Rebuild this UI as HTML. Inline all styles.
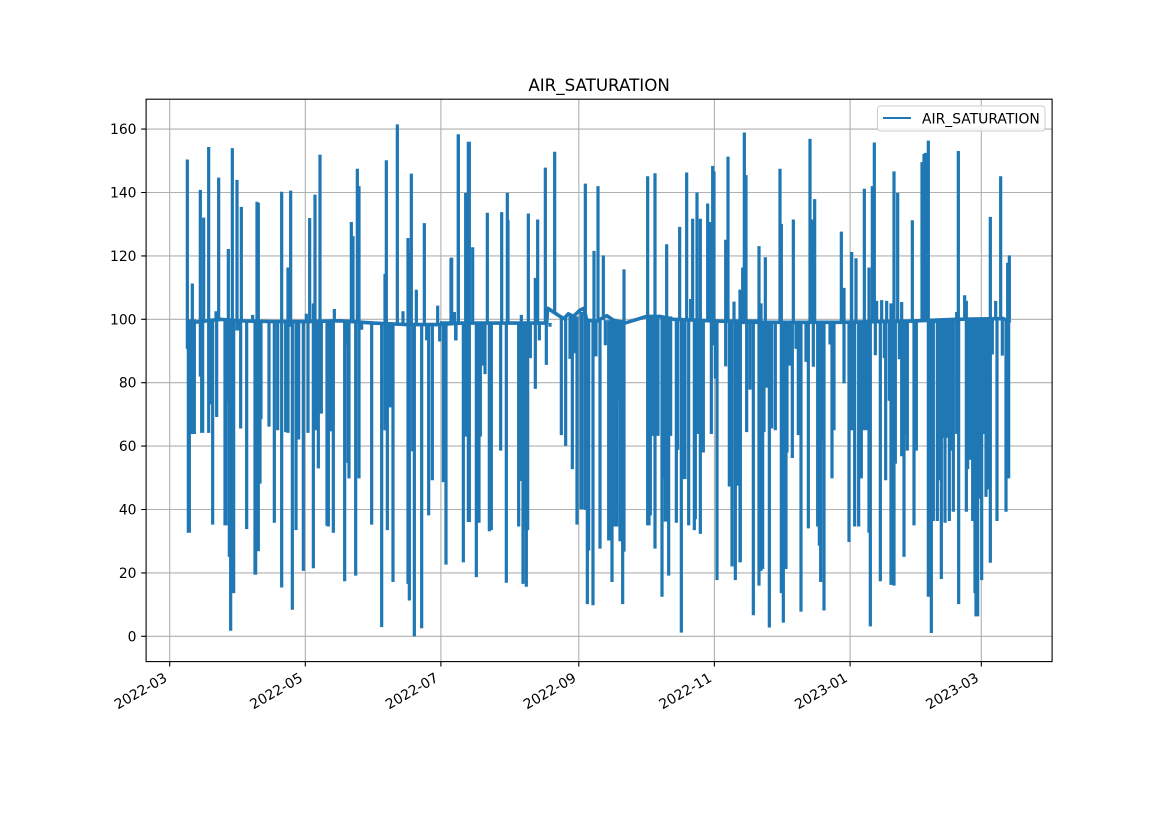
<!DOCTYPE html>
<html><head><meta charset="utf-8"><style>
html,body{margin:0;padding:0;background:#fff;}
svg{display:block;}
text{font-family:"DejaVu Sans","Liberation Sans",sans-serif;fill:#000;}
</style></head><body>
<svg width="1169" height="827" viewBox="0 0 1169 827" xmlns="http://www.w3.org/2000/svg">
<rect x="0" y="0" width="1169" height="827" fill="#fff"/>
<!-- grid -->
<g stroke="#b0b0b0" stroke-width="1.1" fill="none">
<path d="M169.7,99.2V661.6M305.3,99.2V661.6M440.9,99.2V661.6M578.8,99.2V661.6M714.4,99.2V661.6M850.1,99.2V661.6M981.3,99.2V661.6"/>
<path d="M146.1,636.3H1052.1M146.1,572.9H1052.1M146.1,509.5H1052.1M146.1,446.1H1052.1M146.1,382.7H1052.1M146.1,319.3H1052.1M146.1,255.9H1052.1M146.1,192.5H1052.1M146.1,129.1H1052.1"/>
</g>
<!-- data -->
<g fill="none" stroke="#1f77b4" stroke-width="3.2" stroke-linejoin="round">
<g transform="translate(140,90) scale(0.333333,0.369904)">
<path vector-effect="non-scaling-stroke" stroke-width="3.6" d="M142,630 L240,620 L300,624 L400,626 L500,626 L600,624 L700,630 L800,634 L900,634 L960,630"/>
<path vector-effect="non-scaling-stroke" d="M142,188V700 M145,640V1197 M148,620V1197 M157,523V930 M163,620V930 M181,270V775 M185,620V927 M188,620V927 M191,345V620 M206,154V927 M213,620V850 M218,620V1175 M228,598V625 M230,620V884 M236,237V625 M255,620V1177 M258,620V1177 M262,620V845 M265,430V845 M268,620V1262 M272,620V1462 M277,157V1360 M281,620V1360 M291,243V650 M296,620V650 M302,620V915 M304,316V625 M320,625V1187 M338,608V630 M345,625V1310 M347,625V1310 M351,302V1247 M355,305V1247 M360,625V1064 M363,625V890 M387,625V910 M403,625V1170 M413,625V920 M425,275V1345 M437,625V925 M441,625V925 M444,480V927 M452,272V640 M457,625V1405 M468,625V1190 M476,625V945 M490,625V1300 M499,605V625 M504,625V927 M509,346V625 M520,577V1293 M525,283V920 M530,625V920 M535,625V1023 M540,175V625 M544,625V875 M561,625V1178 M565,625V1180 M570,625V923 M573,625V923 M580,625V1197 M583,592V625 M614,625V1328 M620,625V690 M624,625V1008 M627,625V1050 M634,357V625 M639,395V625 M647,625V1313 M652,213V625 M657,260V1050 M665,625V648 M695,625V1175 M725,630V1452 M735,497V920 M739,190V630 M742,630V1190 M749,630V858 M753,630V858 M759,630V1330 M772,93V630 M789,598V630 M804,400V1335 M808,440V1380 M814,226V630 M818,630V977 M823,630V1477 M829,540V630 M845,630V1455 M853,360V630 M860,630V677 M866,630V1150 M877,630V1055 M893,583V630 M899,630V680 M910,630V1060 M918,630V1283 M933,455V630 M943,600V630 M948,630V677 M955,120V630"/>
</g>
<g transform="translate(440,90) scale(0.333333,0.369904)">
<path vector-effect="non-scaling-stroke" stroke-width="3.6" d="M0,630 L320,630 L323,590 L340,600 L360,612 L372,618 L385,605 L400,612 L420,595 L432,590 L440,622 L470,625 L500,610 L520,622 L555,630 L620,612 L660,612 L700,620 L760,622 L840,625 L960,625"/>
<path vector-effect="non-scaling-stroke" d="M35,453V630 M43,600V630 M47,630V677 M55,120V630 M70,630V1277 M77,278V937 M80,630V937 M85,140V1168 M88,140V1168 M98,425V630 M109,630V1317 M117,630V1170 M121,630V937 M126,630V745 M135,630V768 M142,332V630 M148,630V1193 M154,630V1190 M182,630V975 M185,330V630 M199,630V1332 M202,278V630 M204,352V630 M236,630V1180 M240,630V1057 M242,630V1057 M244,608V630 M249,630V1335 M253,630V1190 M256,630V1190 M259,630V1343 M263,630V1190 M265,334V630 M271,630V725 M286,508V808 M293,350V630 M298,630V677 M316,210V630 M319,630V743 M330,630V640 M344,167V600 M364,612V933 M377,612V962 M390,612V727 M397,612V1025 M405,612V712 M411,612V1175 M423,600V1133 M426,600V1133 M436,253V1135 M442,622V1390 M446,622V1245 M459,622V1393 M462,435V622 M468,622V720 M474,260V622 M480,622V1240 M490,447V622 M496,622V690 M506,622V1218 M509,622V1218 M516,622V1330 M520,622V930 M525,622V1180 M530,622V1180 M536,622V840 M540,622V1220 M548,622V1390 M552,485V1248 M623,233V1177 M627,612V1177 M631,612V1150 M636,612V920 M640,612V935 M645,225V1240 M650,612V935 M654,612V935 M666,612V1370 M672,612V1050 M676,612V1167 M680,417V1167 M686,612V1313 M692,612V935 M709,620V1170 M713,620V973 M719,370V620 M724,620V1467 M730,620V1052 M735,620V1052 M740,223V620 M746,620V1177 M752,565V620 M758,348V620 M763,620V1190 M766,620V1160 M771,277V930 M775,620V930 M781,348V1200 M790,620V980 M803,307V620 M810,357V620 M814,620V930 M818,205V690 M822,220V620 M826,620V780 M831,620V1325 M857,405V747 M864,180V625 M868,625V1072 M872,625V1072 M876,625V1288 M882,572V625 M886,625V1325 M893,625V1070 M901,540V1275"/>
</g>
<g transform="translate(740,90) scale(0.333333,0.369904)">
<path vector-effect="non-scaling-stroke" stroke-width="3.6" d="M0,628 L300,628 L500,625 L650,620 L790,618 L812,628"/>
<path vector-effect="non-scaling-stroke" d="M0,540V1277 M8,480V630 M13,115V630 M18,230V630 M20,628V925 M30,628V810 M40,628V1420 M57,422V1340 M63,577V1300 M68,628V1295 M72,628V925 M76,452V628 M80,628V805 M88,628V1453 M95,628V915 M106,628V920 M120,213V628 M124,362V1360 M130,628V1440 M138,628V1295 M141,628V980 M149,628V745 M157,628V995 M160,350V628 M168,628V700 M175,628V933 M183,628V1410 M198,628V735 M205,628V1185 M210,132V628 M217,350V628 M220,628V748 M224,295V628 M233,628V1180 M238,628V1232 M242,628V1330 M247,628V948 M252,628V1407 M270,628V688 M276,628V1050 M282,628V920 M304,383V628 M312,535V793 M327,628V1222 M331,628V920 M335,438V920 M340,628V920 M344,628V1180 M348,455V628 M356,628V1180 M364,628V1050 M373,267V920 M378,628V920 M387,480V1197 M391,625V1450 M397,260V625 M403,142V625 M406,625V717 M410,570V625 M421,625V1328 M425,568V625 M433,625V725 M437,625V1055 M440,570V625 M448,625V840 M453,577V1338 M458,625V1290 M462,220V1340 M466,625V1010 M473,278V625 M478,625V728 M485,573V990 M492,625V1262 M498,622V930 M502,622V975 M517,352V622 M522,622V1177 M529,622V975 M546,195V620 M552,173V620 M556,170V620 M565,137V1370 M569,620V890 M574,620V1468 M580,620V1165 M586,620V630 M592,620V1165 M598,620V1055 M604,620V1322 M610,620V940 M615,620V1170 M620,620V940 M628,620V1165 M634,620V975 M640,620V1140 M650,600V930 M655,165V620 M656,620V1390 M674,555V620 M679,570V1140 M683,620V1025 M686,620V690 M690,620V1000 M693,620V1000 M695,620V975 M698,620V1165 M701,620V1165 M705,620V1360 M708,620V1423 M711,620V1423 M713,620V1423 M716,620V1105 M720,620V1095 M722,620V1000 M725,620V1325 M729,620V930 M733,620V930 M738,620V1100 M742,620V1080 M745,620V930 M751,343V1278 M757,620V715 M767,570V620 M771,620V1165 M782,233V620 M787,620V718 M798,620V1140 M803,467V1050 M806,620V1050 M808,447V620"/>
</g>
</g>
<!-- spines -->
<rect x="146.1" y="99.2" width="906" height="562.4" fill="none" stroke="#000" stroke-width="1.1"/>
<!-- ticks -->
<g stroke="#000" stroke-width="1.1">
<path d="M169.7,661.6V666.5M305.3,661.6V666.5M440.9,661.6V666.5M578.8,661.6V666.5M714.4,661.6V666.5M850.1,661.6V666.5M981.3,661.6V666.5"/>
<path d="M141.2,636.3H146.1M141.2,572.9H146.1M141.2,509.5H146.1M141.2,446.1H146.1M141.2,382.7H146.1M141.2,319.3H146.1M141.2,255.9H146.1M141.2,192.5H146.1M141.2,129.1H146.1"/>
</g>
<g font-size="13.9" text-anchor="end">
<text x="136.5" y="641.3">0</text>
<text x="136.5" y="577.9">20</text>
<text x="136.5" y="514.5">40</text>
<text x="136.5" y="451.1">60</text>
<text x="136.5" y="387.7">80</text>
<text x="136.5" y="324.3">100</text>
<text x="136.5" y="260.9">120</text>
<text x="136.5" y="197.5">140</text>
<text x="136.5" y="134.1">160</text>
</g>
<g font-size="13.9" text-anchor="end">
<text x="168.1" y="680.6" transform="rotate(-30 168.1 680.6)">2022-03</text>
<text x="303.7" y="680.6" transform="rotate(-30 303.7 680.6)">2022-05</text>
<text x="439.3" y="680.6" transform="rotate(-30 439.3 680.6)">2022-07</text>
<text x="577.2" y="680.6" transform="rotate(-30 577.2 680.6)">2022-09</text>
<text x="712.8" y="680.6" transform="rotate(-30 712.8 680.6)">2022-11</text>
<text x="848.5" y="680.6" transform="rotate(-30 848.5 680.6)">2023-01</text>
<text x="979.7" y="680.6" transform="rotate(-30 979.7 680.6)">2023-03</text>
</g>
<text x="599.1" y="91" font-size="16.7" text-anchor="middle">AIR_SATURATION</text>
<!-- legend -->
<rect x="877.5" y="106" width="167.5" height="25" rx="2.8" fill="#fff" fill-opacity="0.8" stroke="#cccccc" stroke-width="1"/>
<line x1="883" y1="118" x2="911" y2="118" stroke="#1f77b4" stroke-width="2.1"/>
<text x="922" y="123.3" font-size="13.9">AIR_SATURATION</text>
</svg>
</body></html>
